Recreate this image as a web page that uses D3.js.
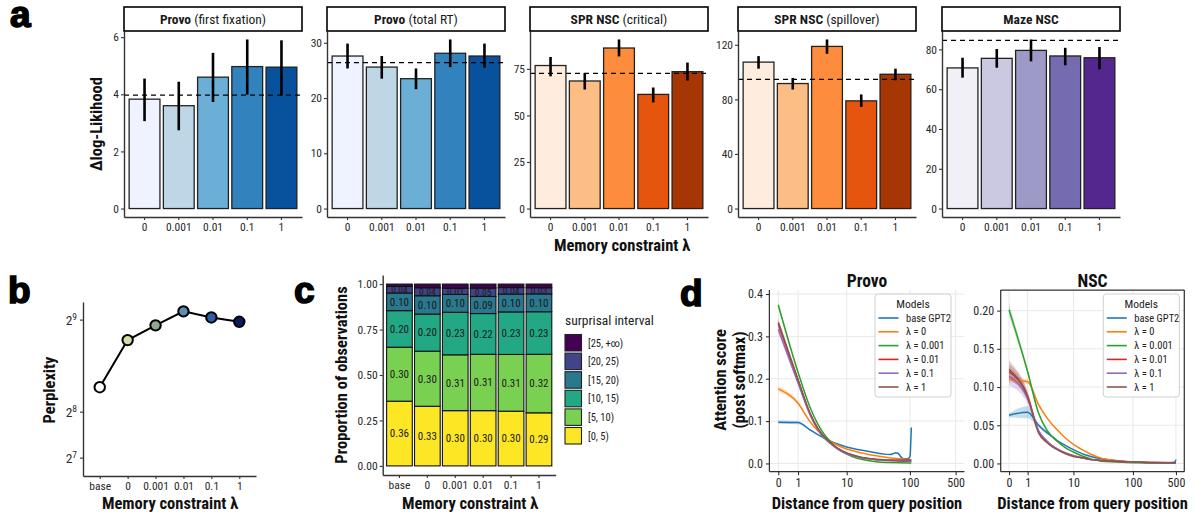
<!DOCTYPE html>
<html><head><meta charset="utf-8">
<script src="https://cdn.jsdelivr.net/npm/d3@7"></script>
<style>
body{margin:0;background:#fff;}
svg{display:block;}
</style></head><body><svg id="fig" width="1195" height="515"></svg>
<script>
// ---------------- DATA ----------------
// Panel a
const lambdas = ["0", "0.001", "0.01", "0.1", "1"];
const facetBold = ["Provo", "Provo", "SPR NSC", "SPR NSC", "Maze NSC"];
const facetRest = [" (first fixation)", " (total RT)", " (critical)", " (spillover)", ""];
const provoFirstFix   = [3.83, 3.60, 4.60, 4.97, 4.95];
const provoFirstFixLo = [3.06, 2.74, 3.73, 3.99, 3.96];
const provoFirstFixHi = [4.55, 4.44, 5.45, 5.92, 5.89];
const provoTotalRT    = [27.6, 25.6, 23.5, 28.1, 27.6];
const provoTotalRTLo  = [25.35, 23.5, 21.6, 25.6, 25.5];
const provoTotalRTHi  = [29.85, 27.6, 25.35, 30.6, 29.85];
const sprCritical     = [76.8, 68.5, 86.2, 61.3, 73.5];
const sprCriticalLo   = [71.0, 63.9, 81.7, 57.0, 68.7];
const sprCriticalHi   = [81.4, 72.8, 90.8, 65.0, 78.4];
const sprSpillover    = [107.3, 91.6, 118.8, 78.9, 98.4];
const sprSpilloverLo  = [102.5, 87.2, 113.4, 74.5, 94.0];
const sprSpilloverHi  = [111.7, 95.7, 123.9, 83.6, 102.5];
const mazeNSC         = [70.7, 75.5, 79.5, 76.7, 75.8];
const mazeNSCLo       = [65.8, 70.8, 74.0, 72.0, 70.0];
const mazeNSCHi       = [75.8, 80.2, 85.0, 80.8, 81.2];
const baselineGPT2    = [3.97, 26.4, 72.6, 94.7, 84.5];
const facetTicks = [[0, 2, 4, 6], [0, 10, 20, 30], [0, 25, 50, 75], [0, 40, 80, 120], [0, 20, 40, 60, 80]];
const blues   = ["#eff3ff", "#bdd7e7", "#6baed6", "#3182bd", "#08519c"];
const oranges = ["#feedde", "#fdbe85", "#fd8d3c", "#e6550d", "#a63603"];
const purples = ["#f2f0f7", "#cbc9e2", "#9e9ac8", "#756bb1", "#54278f"];

// Panel b
const modelCats = ["base", "0", "0.001", "0.01", "0.1", "1"];
const perplexity = [324, 455, 496, 535, 518, 506];
const perplexityColors = ["#ffffff", "#d7dea4", "#8fa88e", "#5e8db3", "#2c5ea3", "#0a1c5c"];
const perplexityExponents = [7, 8, 9];

// Panel c (stacked proportions, bottom to top)
const intervals = ["[0, 5)", "[5, 10)", "[10, 15)", "[15, 20)", "[20, 25)", "[25, +\u221e)"];
const intervalColors = ["#fde725", "#7ad151", "#22a884", "#2a788e", "#414487", "#440154"];
const propBase  = [0.356, 0.297, 0.201, 0.097, 0.036, 0.013];
const prop0     = [0.328, 0.303, 0.204, 0.101, 0.044, 0.020];
const prop0001  = [0.304, 0.307, 0.234, 0.098, 0.034, 0.023];
const prop001   = [0.304, 0.310, 0.224, 0.094, 0.046, 0.022];
const prop01    = [0.301, 0.312, 0.234, 0.098, 0.036, 0.019];
const prop1     = [0.292, 0.322, 0.234, 0.098, 0.034, 0.020];
const propTicks = [0, 0.25, 0.5, 0.75, 1];

// Panel d  ([distance, attention score, CI half-width])
const modelNames = ["base GPT2", "\u03bb = 0", "\u03bb = 0.001", "\u03bb = 0.01", "\u03bb = 0.1", "\u03bb = 1"];
const modelColors = ["#1f77b4", "#ff7f0e", "#2ca02c", "#d62728", "#9467bd", "#8c564b"];
const distTicks = [0, 1, 10, 100, 500];
const provoBase = [[0,.0975,.004],[1,.0965,.004],[2,.080,.002],[3,.068,.001],[4,.060,.001],[5,.054,0],[7,.046,0],[10,.039,0],[15,.033,0],[20,.030,0],[30,.025,0],[40,.022,0],[50,.021,0],[55,.023,.001],[60,.025,.001],[65,.024,.001],[70,.019,.001],[75,.013,.001],[80,.011,.001],[90,.011,.001],[98,.013,.002],[101,.02,.003],[103,.05,.005],[105,.085,.005]];
const provoL0    = [[0,.176,.006],[1,.142,.004],[2,.100,.002],[3,.077,.001],[4,.063,.001],[5,.054,.001],[7,.043,0],[10,.034,0],[15,.027,0],[20,.023,0],[30,.018,0],[50,.013,0],[70,.011,0],[100,.009,.001],[105,.009,.001]];
const provoL0001 = [[0,.374,.008],[1,.215,.004],[2,.135,.002],[3,.093,.001],[4,.069,.001],[5,.054,0],[7,.035,0],[10,.022,0],[15,.012,0],[20,.008,0],[30,.004,0],[50,.002,0],[100,.001,0],[105,.001,0]];
const provoL001  = [[0,.330,.010],[1,.196,.005],[2,.120,.002],[3,.082,.001],[4,.062,.001],[5,.050,0],[7,.035,0],[10,.024,0],[15,.016,0],[20,.012,0],[30,.009,0],[50,.007,0],[100,.005,.001],[105,.005,.001]];
const provoL01   = [[0,.317,.010],[1,.190,.005],[2,.117,.002],[3,.080,.001],[4,.060,.001],[5,.049,0],[7,.034,0],[10,.023,0],[15,.016,0],[20,.012,0],[30,.009,0],[50,.007,0],[100,.006,.001],[105,.006,.001]];
const provoL1    = [[0,.333,.010],[1,.198,.005],[2,.121,.002],[3,.083,.001],[4,.063,.001],[5,.051,0],[7,.036,0],[10,.025,0],[15,.017,0],[20,.013,0],[30,.010,0],[50,.008,0],[100,.008,.001],[105,.009,.001]];
const nscBase  = [[0,.063,.003],[1,.067,.008],[2,.050,.003],[3,.041,.002],[4,.035,.001],[5,.030,.001],[7,.024,0],[10,.018,0],[15,.012,0],[20,.009,0],[30,.006,0],[50,.004,0],[100,.002,0],[200,.001,0],[400,.001,0],[480,.002,.001],[500,.005,.002]];
const nscL0    = [[0,.110,.004],[1,.107,.003],[2,.077,.002],[3,.061,.001],[4,.051,.001],[5,.044,.001],[7,.034,0],[10,.025,0],[15,.017,0],[20,.012,0],[30,.007,0],[50,.004,0],[100,.002,0],[200,.001,0],[500,.001,0]];
const nscL0001 = [[0,.201,.008],[1,.120,.004],[2,.066,.002],[3,.045,.001],[4,.035,.001],[5,.029,.001],[7,.021,0],[10,.015,0],[15,.009,0],[20,.006,0],[30,.003,0],[50,.002,0],[100,.001,0],[500,.0005,0]];
const nscL001  = [[0,.120,.010],[1,.088,.006],[2,.042,.002],[3,.030,.001],[4,.023,.001],[5,.019,.001],[7,.014,0],[10,.010,0],[15,.007,0],[20,.005,0],[30,.004,0],[50,.003,0],[100,.002,0],[500,.001,0]];
const nscL01   = [[0,.114,.012],[1,.085,.007],[2,.043,.002],[3,.030,.001],[4,.023,.001],[5,.019,.001],[7,.014,0],[10,.010,0],[15,.007,0],[20,.005,0],[30,.004,0],[50,.003,0],[100,.002,0],[500,.001,0]];
const nscL1    = [[0,.123,.012],[1,.087,.006],[2,.040,.002],[3,.028,.001],[4,.022,.001],[5,.018,.001],[7,.013,0],[10,.009,0],[15,.007,0],[20,.005,0],[30,.004,0],[50,.003,0],[100,.002,0],[500,.001,0]];
const provoTicksY = [0, 0.1, 0.2, 0.3, 0.4];
const nscTicksY = [0, 0.05, 0.10, 0.15, 0.20];

// ---------------- DRAWING ----------------
const FONT = '"Roboto Condensed","Liberation Sans Narrow","DejaVu Sans Condensed",Roboto,sans-serif';
const svg = d3.select("#fig").attr("font-family", FONT);
const INK = "#333";

function styleAxis(g, size) {
  g.attr("font-family", FONT);
  g.select(".domain").attr("stroke", INK).attr("stroke-width", 1.4);
  g.selectAll(".tick line").attr("stroke", INK).attr("stroke-width", 1.1);
  g.selectAll(".tick text").attr("fill", "#2a2a2a").style("font-size", size + "px");
}
function label(txt, x, y, size, opts = {}) {
  const t = svg.append("text").attr("x", x).attr("y", y).text(txt)
    .attr("text-anchor", opts.anchor || "middle")
    .attr("font-weight", opts.weight || "bold")
    .style("font-size", size + "px").attr("fill", opts.fill || "#111");
  if (opts.rotate) t.attr("transform", `rotate(-90,${x},${y})`);
  return t;
}
function panelLetter(ch, x, y) {
  svg.append("text").attr("x", x).attr("y", y).text(ch)
    .attr("font-family", '"Liberation Sans",Arial,sans-serif').attr("font-weight", "bold")
    .style("font-size", "37px").attr("fill", "#000").attr("stroke", "#000").attr("stroke-width", 1.6);
}

// ---- Panel a ----
const facetVals = [provoFirstFix, provoTotalRT, sprCritical, sprSpillover, mazeNSC];
const facetLo = [provoFirstFixLo, provoTotalRTLo, sprCriticalLo, sprSpilloverLo, mazeNSCLo];
const facetHi = [provoFirstFixHi, provoTotalRTHi, sprCriticalHi, sprSpilloverHi, mazeNSCHi];
const facetPal = [blues, blues, oranges, oranges, purples];
const facetLeft = [124, 327, 530, 738, 942];
const facetW = 178, aTop = 31, aBot = 217;

facetVals.forEach((vals, i) => {
  const x0 = facetLeft[i], x1 = x0 + facetW;
  const M = d3.max([...facetHi[i], baselineGPT2[i]]);
  const y = d3.scaleLinear().domain([-0.05 * M, 1.05 * M]).range([aBot, aTop]);
  const x = d3.scaleBand().domain(lambdas).range([x0, x1]).paddingInner(0.1).paddingOuter(0.15);
  const g = svg.append("g");
  g.selectAll("rect.bar").data(vals).join("rect").attr("class", "bar")
    .attr("x", (d, j) => x(lambdas[j])).attr("width", x.bandwidth())
    .attr("y", d => y(d)).attr("height", d => y(0) - y(d))
    .attr("fill", (d, j) => facetPal[i][j]).attr("stroke", "#222").attr("stroke-width", 1.3);
  g.append("line").attr("x1", x0).attr("x2", x1)
    .attr("y1", y(baselineGPT2[i])).attr("y2", y(baselineGPT2[i]))
    .attr("stroke", "#000").attr("stroke-width", 1.3).attr("stroke-dasharray", "5,4");
  g.selectAll("line.err").data(vals).join("line").attr("class", "err")
    .attr("x1", (d, j) => x(lambdas[j]) + x.bandwidth() / 2).attr("x2", (d, j) => x(lambdas[j]) + x.bandwidth() / 2)
    .attr("y1", (d, j) => y(facetLo[i][j])).attr("y2", (d, j) => y(facetHi[i][j]))
    .attr("stroke", "#000").attr("stroke-width", 2.6);
  const ya = g.append("g").attr("transform", `translate(${x0},0)`)
    .call(d3.axisLeft(y).tickValues(facetTicks[i]).tickFormat(d3.format("d")).tickSize(3).tickPadding(2).tickSizeOuter(0));
  styleAxis(ya, 11.5);
  const xa = g.append("g").attr("transform", `translate(0,${aBot})`)
    .call(d3.axisBottom(x).tickSize(3).tickPadding(3).tickSizeOuter(0));
  styleAxis(xa, 11.5);
  // strip
  g.append("rect").attr("x", x0).attr("y", 7).attr("width", facetW).attr("height", 24)
    .attr("fill", "#fff").attr("stroke", "#000").attr("stroke-width", 1.6);
  const st = g.append("text").attr("x", (x0 + x1) / 2).attr("y", 23.5).attr("text-anchor", "middle")
    .style("font-size", "13.5px").attr("fill", "#1a1a1a");
  st.append("tspan").attr("font-weight", "bold").text(facetBold[i]);
  st.append("tspan").text(facetRest[i]);
});
label("\u0394log-Likihood", 102, 124, 16.5, { rotate: true });
label("Memory constraint \u03bb", 622, 251, 16.5);
panelLetter("a", 10, 27);

// ---- Panel b ----
{
  const x = d3.scalePoint().domain(modelCats).range([83, 256]).padding(0.6);
  const y = d3.scaleLinear().domain([77, 561]).range([476, 302]);
  const g = svg.append("g");
  g.append("path").datum(perplexity)
    .attr("d", d3.line().x((d, j) => x(modelCats[j])).y(d => y(d)))
    .attr("fill", "none").attr("stroke", "#000").attr("stroke-width", 2);
  g.selectAll("circle").data(perplexity).join("circle")
    .attr("cx", (d, j) => x(modelCats[j])).attr("cy", d => y(d)).attr("r", 5.2)
    .attr("fill", (d, j) => perplexityColors[j]).attr("stroke", "#000").attr("stroke-width", 2);
  const ya = g.append("g").attr("transform", "translate(83,0)")
    .call(d3.axisLeft(y).tickValues(perplexityExponents.map(e => 2 ** e)).tickFormat("").tickSize(3).tickSizeOuter(0));
  styleAxis(ya, 12);
  ya.selectAll(".tick").each(function (d) {
    const t = d3.select(this).append("text").attr("x", -6).attr("dy", "0.35em")
      .attr("text-anchor", "end").attr("fill", "#2a2a2a").style("font-size", "13.5px");
    t.append("tspan").text("2");
    t.append("tspan").attr("dy", "-0.55em").style("font-size", "9.5px").text(Math.round(Math.log2(d)));
  });
  const xa = g.append("g").attr("transform", "translate(0,476)")
    .call(d3.axisBottom(x).tickSize(3).tickPadding(3).tickSizeOuter(0));
  styleAxis(xa, 11.5);
  label("Perplexity", 55, 390, 16.5, { rotate: true });
  label("Memory constraint \u03bb", 170, 509, 16.5);
  panelLetter("b", 8, 303);
}

// ---- Panel c ----
{
  const props = [propBase, prop0, prop0001, prop001, prop01, prop1];
  const x = d3.scaleBand().domain(modelCats).range([382.7, 555.7]).paddingInner(0.08).paddingOuter(0.14);
  const y = d3.scaleLinear().domain([-0.05, 1.05]).range([475, 275]);
  const g = svg.append("g");
  const fmt = d3.format(".2f");
  props.forEach((p, j) => {
    let cum = 0;
    p.forEach((v, k) => {
      const y0 = cum, y1 = cum + v; cum = y1;
      g.append("rect").attr("x", x(modelCats[j])).attr("width", x.bandwidth())
        .attr("y", y(y1)).attr("height", y(y0) - y(y1))
        .attr("fill", intervalColors[k]).attr("stroke", "#111").attr("stroke-width", 1.1);
      if (k < 5) {
        g.append("text").attr("x", x(modelCats[j]) + x.bandwidth() / 2).attr("y", y((y0 + y1) / 2))
          .attr("dy", "0.35em").attr("text-anchor", "middle").style("font-size", k === 4 ? "9.5px" : "11px")
          .attr("fill", "#1a1a1a").text(fmt(v));
      }
    });
  });
  const ya = g.append("g").attr("transform", "translate(382.7,0)")
    .call(d3.axisLeft(y).tickValues(propTicks).tickFormat(d3.format(".2f")).tickSize(3).tickPadding(2).tickSizeOuter(0));
  styleAxis(ya, 11.5);
  const xa = g.append("g").attr("transform", "translate(0,475)")
    .call(d3.axisBottom(x).tickSize(3).tickPadding(3).tickSizeOuter(0));
  styleAxis(xa, 11.5);
  // legend
  label("surprisal interval", 565, 325, 13.5, { anchor: "start", weight: "normal", fill: "#222" });
  const order = d3.range(intervals.length).reverse();
  order.forEach((k, r) => {
    const yy = 334.5 + r * 18.6;
    g.append("rect").attr("x", 565).attr("y", yy).attr("width", 16.5).attr("height", 16.5)
      .attr("fill", intervalColors[k]).attr("stroke", "#222").attr("stroke-width", 1.1);
    g.append("text").attr("x", 588).attr("y", yy + 8.5).attr("dy", "0.35em")
      .style("font-size", "10.5px").attr("fill", "#222").text(intervals[k]);
  });
  label("Proportion of observations", 347, 375, 16.5, { rotate: true });
  label("Memory constraint \u03bb", 470, 509, 16.5);
  panelLetter("c", 294, 303);
}

// ---- Panel d ----
function attnPanel(cfg) {
  const { left, right, top, bottom, yDomain, yTicks, yFmt, series, title, legendX, spines } = cfg;
  const T = Math.log1p(500);
  const xDom = [-Math.expm1(0.05 * T), Math.expm1(1.05 * T)];
  const x = d3.scaleSymlog().constant(1).domain(xDom).range([left, right]);
  const y = d3.scaleLinear().domain(yDomain).range([bottom, top]);
  const g = svg.append("g");
  g.selectAll("line.gx").data(distTicks).join("line").attr("class", "gx")
    .attr("x1", d => x(d)).attr("x2", d => x(d)).attr("y1", top).attr("y2", bottom)
    .attr("stroke", "#e8e8e8").attr("stroke-width", 1);
  g.selectAll("line.gy").data(yTicks).join("line").attr("class", "gy")
    .attr("x1", left).attr("x2", right).attr("y1", d => y(d)).attr("y2", d => y(d))
    .attr("stroke", "#e8e8e8").attr("stroke-width", 1);
  const clip = "clip" + title;
  svg.append("clipPath").attr("id", clip).append("rect")
    .attr("x", left).attr("y", top).attr("width", right - left).attr("height", bottom - top);
  const pg = g.append("g").attr("clip-path", `url(#${clip})`);
  series.forEach((s, i) => {
    pg.append("path").datum(s)
      .attr("d", d3.area().x(d => x(d[0])).y0(d => y(d[1] - d[2])).y1(d => y(d[1] + d[2])).curve(d3.curveMonotoneX))
      .attr("fill", modelColors[i]).attr("opacity", 0.25);
  });
  series.forEach((s, i) => {
    pg.append("path").datum(s)
      .attr("d", d3.line().x(d => x(d[0])).y(d => y(d[1])).curve(d3.curveMonotoneX))
      .attr("fill", "none").attr("stroke", modelColors[i]).attr("stroke-width", 1.5);
  });
  // spines
  const sp = (x1, y1, x2, y2) => g.append("line").attr("x1", x1).attr("y1", y1).attr("x2", x2).attr("y2", y2)
    .attr("stroke", "#333").attr("stroke-width", 1.25);
  sp(left, top, left, bottom); sp(left, bottom, right, bottom);
  if (spines) { sp(left, top, right, top); sp(right, top, right, bottom); }
  const ya = g.append("g").attr("transform", `translate(${left},0)`)
    .call(d3.axisLeft(y).tickValues(yTicks).tickFormat(d3.format(yFmt)).tickSize(3.5).tickPadding(3).tickSizeOuter(0));
  styleAxis(ya, 12); ya.select(".domain").remove();
  const xa = g.append("g").attr("transform", `translate(0,${bottom})`)
    .call(d3.axisBottom(x).tickValues(distTicks).tickFormat(d3.format("d")).tickSize(3.5).tickPadding(3).tickSizeOuter(0));
  styleAxis(xa, 12); xa.select(".domain").remove();
  label(title, (left + right) / 2, 287, 17.5);
  label("Distance from query position", (left + right) / 2, 509, 16.5);
  // legend
  const lx = legendX, ly = 294, lw = 76, lh = 103;
  g.append("rect").attr("x", lx).attr("y", ly).attr("width", lw).attr("height", lh).attr("rx", 3)
    .attr("fill", "#fff").attr("fill-opacity", 0.85).attr("stroke", "#d0d0d0").attr("stroke-width", 1);
  g.append("text").attr("x", lx + lw / 2).attr("y", ly + 10).attr("dy", "0.35em").attr("text-anchor", "middle")
    .style("font-size", "11.5px").attr("fill", "#222").text("Models");
  modelNames.forEach((nm, i) => {
    const yy = ly + 24 + i * 13.8;
    g.append("line").attr("x1", lx + 3.5).attr("x2", lx + 23.5).attr("y1", yy).attr("y2", yy)
      .attr("stroke", modelColors[i]).attr("stroke-width", 1.6);
    g.append("text").attr("x", lx + 31).attr("y", yy).attr("dy", "0.35em")
      .style("font-size", "10.5px").attr("fill", "#222").text(nm);
  });
}
attnPanel({ left: 769.4, right: 964.5, top: 290, bottom: 471.7, yDomain: [-0.0195, 0.4095], yTicks: provoTicksY, yFmt: ".1f",
  series: [provoBase, provoL0, provoL0001, provoL001, provoL01, provoL1], title: "Provo", legendX: 875, spines: false });
attnPanel({ left: 1000.7, right: 1184.3, top: 290, bottom: 471.7, yDomain: [-0.0108, 0.227], yTicks: nscTicksY, yFmt: ".2f",
  series: [nscBase, nscL0, nscL0001, nscL001, nscL01, nscL1], title: "NSC", legendX: 1103.3, spines: true });
svg.append("text").attr("x", 728).attr("y", 380).attr("transform", "rotate(-90,728,380)")
  .attr("text-anchor", "middle").attr("font-weight", "bold").style("font-size", "16.5px").attr("fill", "#111")
  .selectAll("tspan").data(["Attention score", "(post softmax)"]).join("tspan")
  .attr("x", 728).attr("dy", (d, i) => i === 0 ? "-0.15em" : "1.2em").text(d => d);
panelLetter("d", 680, 306);
</script></body></html>
